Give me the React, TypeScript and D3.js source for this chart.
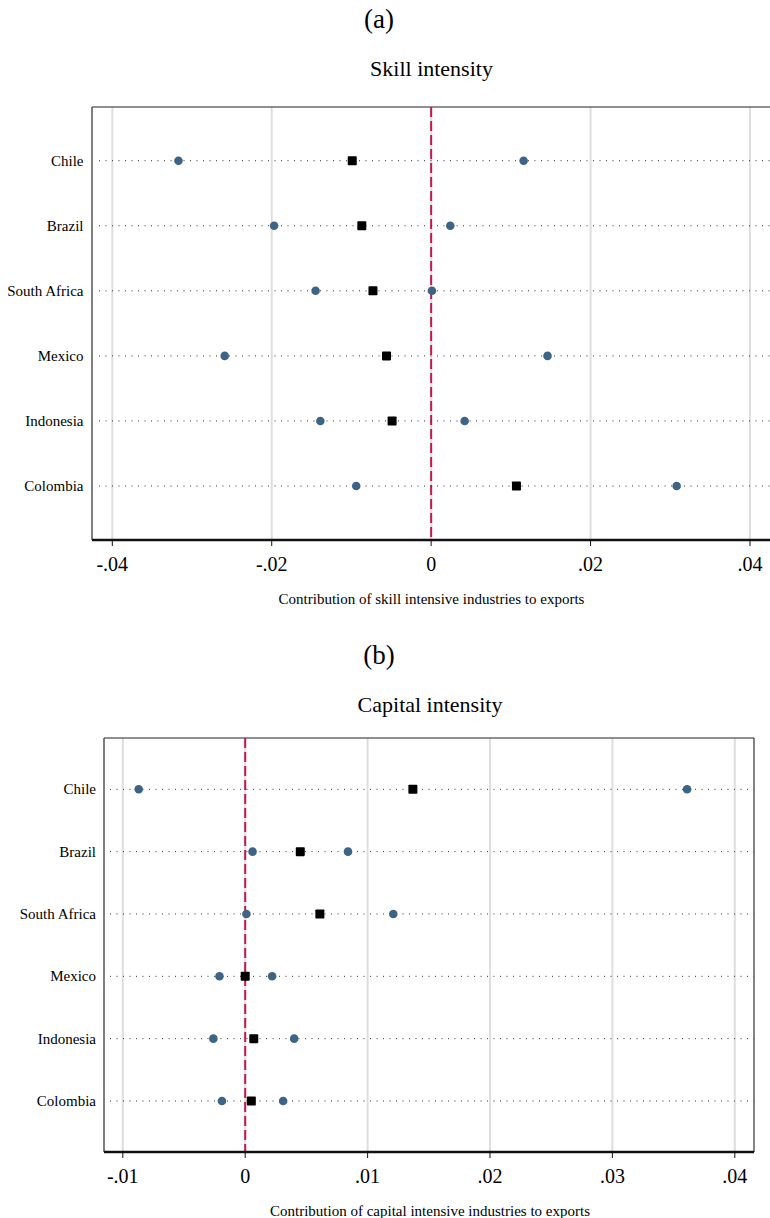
import React from 'react';
import * as d3 from 'd3';

const countries = ['Chile', 'Brazil', 'South Africa', 'Mexico', 'Indonesia', 'Colombia'];

// panel (a) skill intensity: lower bound, point estimate, upper bound
const skillLow = [-0.0317, -0.0197, -0.0145, -0.0259, -0.0139, -0.0094];
const skillMid = [-0.0099, -0.0087, -0.0073, -0.0056, -0.0049, 0.0107];
const skillHigh = [0.0116, 0.0024, 0.0001, 0.0146, 0.0042, 0.0308];
const skillTicks = [-0.04, -0.02, 0, 0.02, 0.04];

// panel (b) capital intensity
const capLow = [-0.0087, 0.0006, 0.0001, -0.0021, -0.0026, -0.0019];
const capMid = [0.0137, 0.0045, 0.0061, 0.0, 0.0007, 0.0005];
const capHigh = [0.0361, 0.0084, 0.0121, 0.0022, 0.004, 0.0031];
const capTicks = [-0.01, 0, 0.01, 0.02, 0.03, 0.04];

const FONT = '"Liberation Serif", "Times New Roman", serif';
const BLUE = '#3e6485';
const RED = '#c8174b';
const GRID = '#dedede';

const fmt = (v: number) => (v === 0 ? '0' : v.toFixed(2).replace('0.', '.'));

interface PanelProps {
  letter: string;
  title: string;
  xTitle: string;
  low: number[];
  mid: number[];
  high: number[];
  ticks: number[];
  domain: [number, number];
  // layout
  top: number;
  box: { left: number; top: number; right: number; bottom: number };
  xRange: [number, number];
  yRange: [number, number];
  labelRight: number;
  dotStart: number;
  centerX: number;
}

function Panel(p: PanelProps) {
  const x = d3.scaleLinear().domain(p.domain).range(p.xRange);
  const y = d3.scalePoint<string>().domain(countries).range(p.yRange);
  const { box } = p;

  return (
    <g>
      <text x={379} y={p.top + 27.5} textAnchor="middle" fontSize={27} fontFamily={FONT}>
        {p.letter}
      </text>
      <text x={p.centerX} y={p.top + 76} textAnchor="middle" fontSize={22} fontFamily={FONT}>
        {p.title}
      </text>

      {/* grid */}
      {p.ticks.map(t => (
        <line key={'g' + t} x1={x(t)} x2={x(t)} y1={box.top} y2={box.bottom}
          stroke={GRID} strokeWidth={2} />
      ))}

      {/* frame */}
      <line x1={box.left} x2={box.right} y1={box.top} y2={box.top} stroke="#222" strokeWidth={1.2} />
      <line x1={box.left} x2={box.left} y1={box.top} y2={box.bottom} stroke="#555" strokeWidth={1.5} />
      <line x1={box.right} x2={box.right} y1={box.top} y2={box.bottom} stroke="#333" strokeWidth={1.2} />

      {/* zero reference line */}
      <line x1={x(0)} x2={x(0)} y1={box.top} y2={box.bottom} stroke={RED}
        strokeWidth={2} strokeDasharray="10,4" />

      {/* rows */}
      {countries.map((c, i) => (
        <g key={c}>
          <text x={p.labelRight} y={y(c)!} dy="0.33em" textAnchor="end" fontSize={15} fontFamily={FONT}>
            {c}
          </text>
          <line x1={p.dotStart} x2={box.right} y1={y(c)!} y2={y(c)!} stroke="#333"
            strokeWidth={1} strokeDasharray="1,5.5" />
          <circle cx={x(p.low[i])} cy={y(c)!} r={4.3} fill={BLUE} />
          <circle cx={x(p.high[i])} cy={y(c)!} r={4.3} fill={BLUE} />
          <rect x={x(p.mid[i]) - 4.5} y={y(c)! - 4.5} width={9} height={9} fill="#000" rx={0.8} />
        </g>
      ))}

      {/* x axis */}
      <line x1={box.left} x2={box.right} y1={box.bottom} y2={box.bottom} stroke="#111" strokeWidth={2.5} />
      {p.ticks.map(t => (
        <g key={'t' + t}>
          <line x1={x(t)} x2={x(t)} y1={box.bottom} y2={box.bottom + 6} stroke="#111" strokeWidth={1} />
          <text x={x(t)} y={box.bottom + 31} textAnchor="middle" fontSize={20} fontFamily={FONT}>
            {fmt(t)}
          </text>
        </g>
      ))}
      <text x={p.centerX} y={box.bottom + 64} textAnchor="middle" fontSize={15} fontFamily={FONT}>
        {p.xTitle}
      </text>
    </g>
  );
}

export default function App() {
  return (
    <svg width={770} height={1218} style={{ position: 'absolute', left: 0, top: 0, background: '#fff' }}>
      <rect width={770} height={1218} fill="#fff" />
      <Panel
        letter="(a)"
        title="Skill intensity"
        xTitle="Contribution of skill intensive industries to exports"
        low={skillLow}
        mid={skillMid}
        high={skillHigh}
        ticks={skillTicks}
        domain={[-0.04, 0.04]}
        top={0}
        box={{ left: 92, top: 107, right: 790, bottom: 540 }}
        xRange={[112.3, 750]}
        yRange={[160.7, 486]}
        labelRight={83.5}
        dotStart={99}
        centerX={431.5}
      />
      <Panel
        letter="(b)"
        title="Capital intensity"
        xTitle="Contribution of capital intensive industries to exports"
        low={capLow}
        mid={capMid}
        high={capHigh}
        ticks={capTicks}
        domain={[-0.01, 0.04]}
        top={636}
        box={{ left: 104, top: 738, right: 754, bottom: 1152 }}
        xRange={[122.8, 734.8]}
        yRange={[789.3, 1101]}
        labelRight={96}
        dotStart={110}
        centerX={430}
      />
    </svg>
  );
}
